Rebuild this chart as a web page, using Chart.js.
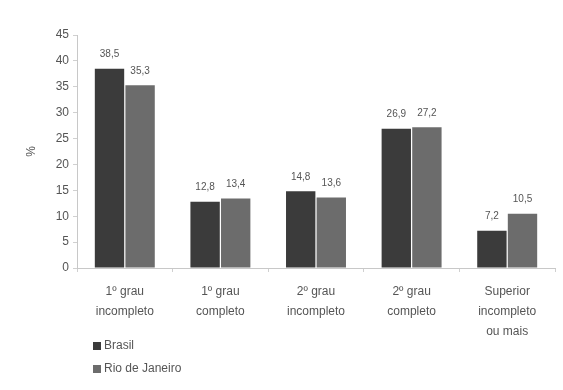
<!DOCTYPE html>
<html>
<head>
<meta charset="utf-8">
<script src="https://cdn.jsdelivr.net/npm/chart.js@4"></script>
<style>
  html, body { margin: 0; padding: 0; background: #fff; }
  #wrap { position: relative; width: 563px; height: 390px; }
  #legend { position: absolute; left: 93px; top: 336px; font: 12px "Liberation Sans", Arial, sans-serif; color: #555; }
  #legend div { height: 23px; line-height: 18px; }
  #legend span { display: inline-block; width: 8px; height: 8px; margin-right: 3px; vertical-align: -1px; }
</style>
</head>
<body>
<div id="wrap">
  <canvas id="chart" width="563" height="390"></canvas>
  <div id="legend"></div>
</div>
<script>
const categories = [
  ["1º grau", "incompleto"],
  ["1º grau", "completo"],
  ["2º grau", "incompleto"],
  ["2º grau", "completo"],
  ["Superior", "incompleto", "ou mais"]
];
const seriesNames = ["Brasil", "Rio de Janeiro"];
const brasil = [38.5, 12.8, 14.8, 26.9, 7.2];
const rioDeJaneiro = [35.3, 13.4, 13.6, 27.2, 10.5];
const yTicks = [0, 5, 10, 15, 20, 25, 30, 35, 40, 45];
const colors = ["#3b3b3b", "#6c6c6c"];

const font = "Liberation Sans, Arial, sans-serif";

// values printed above each bar, with a decimal comma
const valueLabels = {
  id: "valueLabels",
  afterDatasetsDraw(chart) {
    const ctx = chart.ctx;
    ctx.save();
    ctx.font = "10px " + font;
    ctx.fillStyle = "#555";
    ctx.textAlign = "center";
    ctx.textBaseline = "bottom";
    chart.data.datasets.forEach((ds, i) => {
      chart.getDatasetMeta(i).data.forEach((bar, j) => {
        ctx.fillText(ds.data[j].toFixed(1).replace(".", ","), bar.x, bar.y - 9);
      });
    });
    ctx.restore();
  }
};

const chart = new Chart(document.getElementById("chart"), {
  type: "bar",
  data: {
    labels: categories,
    datasets: [
      { label: seriesNames[0], data: brasil, backgroundColor: colors[0] },
      { label: seriesNames[1], data: rioDeJaneiro, backgroundColor: colors[1] }
    ]
  },
  options: {
    responsive: false,
    animation: false,
    layout: { padding: { top: 35, right: 8, left: 0, bottom: 0 } },
    datasets: {
      bar: { categoryPercentage: 0.64, barPercentage: 0.96 }
    },
    plugins: {
      legend: { display: false },
      tooltip: { enabled: false }
    },
    scales: {
      x: {
        offset: true,
        border: { color: "#c8c8c8" },
        grid: { offset: true, drawOnChartArea: false, tickLength: 4, color: "#d0d0d0" },
        ticks: { color: "#555", font: { family: font, size: 12, lineHeight: 1.65 }, padding: 10, maxRotation: 0 },
        afterFit(scale) { scale.height = 122; }
      },
      y: {
        min: 0,
        max: 45,
        afterBuildTicks(scale) { scale.ticks = yTicks.map(v => ({ value: v })); },
        border: { color: "#c8c8c8" },
        grid: { drawOnChartArea: false, tickLength: 4, color: "#d0d0d0" },
        ticks: { color: "#555", font: { family: font, size: 12 }, padding: 4 },
        title: { display: true, text: "%", color: "#555", font: { family: font, size: 12 }, padding: { top: 24, bottom: 0 } },
        afterFit(scale) { scale.width = 77; }
      }
    }
  },
  plugins: [valueLabels]
});

// legend stacked under the axis
const legend = document.getElementById("legend");
chart.data.datasets.forEach(ds => {
  const row = document.createElement("div");
  row.innerHTML = '<span style="background:' + ds.backgroundColor + '"></span>' + ds.label;
  legend.appendChild(row);
});
</script>
</body>
</html>
